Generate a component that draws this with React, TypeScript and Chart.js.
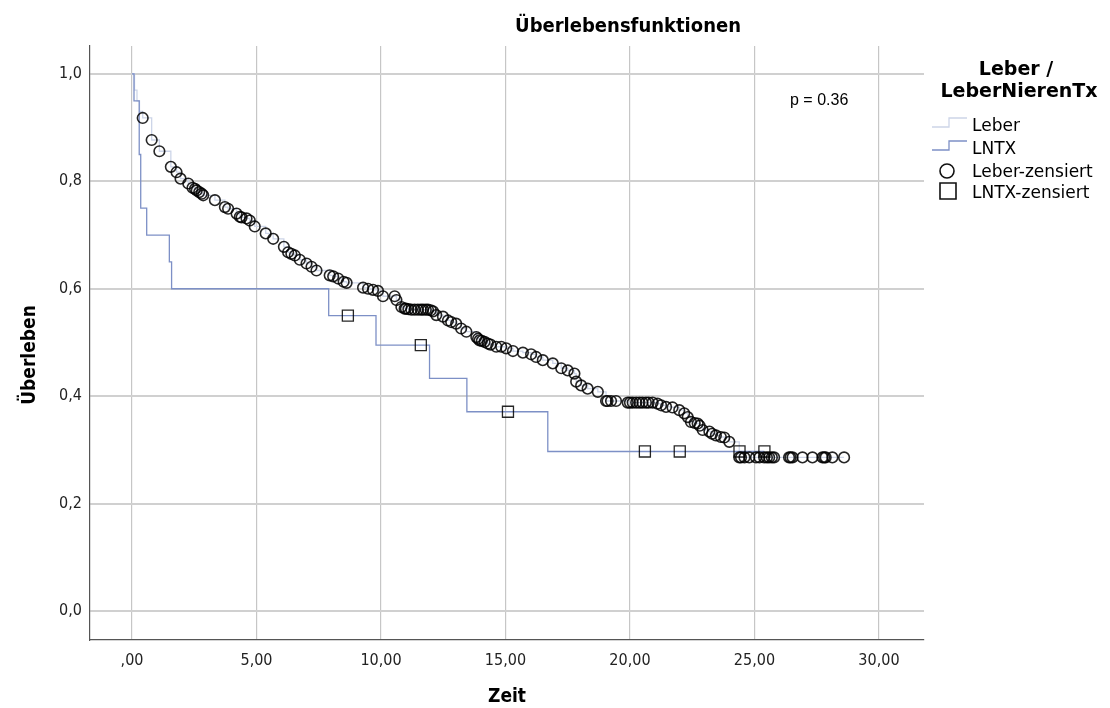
import React, { useEffect, useRef } from 'react';
import { Chart, registerables } from 'chart.js';

Chart.register(...registerables);

// ---- Axis ticks ----
const xTickValues = [0, 5, 10, 15, 20, 25, 30];
const yTickValues = [0, 0.2, 0.4, 0.6, 0.8, 1.0];

// ---- LNTX Kaplan-Meier curve ----
const lntxStepT = [0, 0.08, 0.29, 0.35, 0.59, 1.5, 1.59, 7.9, 9.8, 11.95, 13.45, 16.7, 25.4];
const lntxStepS = [1.0, 0.95, 0.85, 0.75, 0.70, 0.65, 0.60, 0.55, 0.495, 0.433, 0.371, 0.297, 0.297];
const lntxCensT = [8.67, 11.6, 15.1, 20.6, 22.0, 24.4, 25.4];
const lntxCensS = [0.55, 0.495, 0.371, 0.297, 0.297, 0.297, 0.297];

// ---- Leber Kaplan-Meier curve (initial steps before first censoring) ----
const leberStepT = [0, 0.1, 0.2, 0.3];
const leberStepS = [1.0, 0.97, 0.95, 0.93];

// ---- Leber censored observations ----
const leberCensT = [
  0.43, 0.79, 1.10, 1.56, 1.79, 1.95, 2.26, 2.43, 2.53, 2.6, 2.7, 2.80, 2.86, 3.33, 3.73, 3.86,
  4.20, 4.33, 4.4, 4.60, 4.73, 4.93, 5.37, 5.67, 6.10, 6.27, 6.4, 6.54, 6.74, 7.01, 7.21, 7.41,
  7.94, 8.08, 8.28, 8.50, 8.62, 9.28, 9.48, 9.68, 9.88, 10.08, 10.55, 10.62, 10.82, 10.95, 11.0,
  11.1, 11.22, 11.35, 11.48, 11.6, 11.69, 11.8, 11.89, 12.0, 12.09, 12.22, 12.49, 12.69, 12.82,
  13.02, 13.22, 13.43, 13.83, 13.9, 13.96, 14.05, 14.16, 14.29, 14.4, 14.63, 14.83, 15.03, 15.30,
  15.70, 16.03, 16.23, 16.50, 16.90, 17.24, 17.50, 17.77, 17.84, 18.04, 18.30, 18.71, 19.04,
  19.1, 19.24, 19.44, 19.91, 20.0, 20.11, 20.25, 20.38, 20.5, 20.64, 20.75, 20.91, 21.11, 21.25,
  21.45, 21.71, 21.98, 22.18, 22.32, 22.45, 22.6, 22.72, 22.8, 22.92, 23.19, 23.3, 23.45, 23.65,
  23.79, 23.99, 24.39, 24.46, 24.6, 24.79, 25.06, 25.2, 25.39, 25.5, 25.59, 25.7, 25.79, 26.39,
  26.45, 26.53, 26.93, 27.33, 27.73, 27.8, 27.86, 28.13, 28.60,
];
const leberCensS = [
  0.918, 0.877, 0.856, 0.827, 0.817, 0.805, 0.796, 0.788, 0.786, 0.783, 0.780, 0.777, 0.774, 0.765, 0.752, 0.749,
  0.740, 0.734, 0.733, 0.731, 0.727, 0.716, 0.703, 0.693, 0.678, 0.668, 0.665, 0.662, 0.654, 0.647, 0.641, 0.634,
  0.625, 0.623, 0.619, 0.613, 0.611, 0.602, 0.600, 0.598, 0.596, 0.586, 0.586, 0.579, 0.566, 0.563, 0.563,
  0.562, 0.561, 0.561, 0.561, 0.561, 0.561, 0.561, 0.561, 0.560, 0.558, 0.551, 0.548, 0.541, 0.538,
  0.535, 0.526, 0.520, 0.510, 0.507, 0.504, 0.503, 0.501, 0.498, 0.496, 0.492, 0.492, 0.489, 0.484,
  0.481, 0.478, 0.473, 0.467, 0.461, 0.452, 0.448, 0.442, 0.427, 0.420, 0.414, 0.408, 0.391,
  0.391, 0.391, 0.391, 0.388, 0.388, 0.388, 0.388, 0.388, 0.388, 0.388, 0.388, 0.388, 0.386, 0.383,
  0.380, 0.379, 0.374, 0.368, 0.361, 0.352, 0.350, 0.349, 0.345, 0.337, 0.334, 0.330, 0.327, 0.324,
  0.323, 0.315, 0.286, 0.286, 0.286, 0.286, 0.286, 0.286, 0.286, 0.286, 0.286, 0.286, 0.286, 0.286,
  0.286, 0.286, 0.286, 0.286, 0.286, 0.286, 0.286, 0.286, 0.286,
];

// ---- Texts ----
const chartTitle = 'Überlebensfunktionen';
const xTitle = 'Zeit';
const yTitle = 'Überleben';
const legendTitle = ['Leber /', 'LeberNierenTx'];
const legendLabels = ['Leber', 'LNTX', 'Leber-zensiert', 'LNTX-zensiert'];
const pValueText = 'p = 0.36';

const COND = '"DejaVu Sans Condensed", "DejaVu Sans", sans-serif';
const SANS = '"DejaVu Sans", sans-serif';

const LEBER_LINE = '#cdd5e8';
const LNTX_LINE = '#7d90c6';

const fmtX = (v: number) => (v === 0 ? ',00' : v.toFixed(2).replace('.', ','));
const fmtY = (v: number) => v.toFixed(1).replace('.', ',');

const decorPlugin = {
  id: 'decor',
  afterDraw(chart: any) {
    const ctx: CanvasRenderingContext2D = chart.ctx;
    const area = chart.chartArea;
    ctx.save();
    ctx.fillStyle = '#000';
    // Title
    ctx.font = `bold 20px ${COND}`;
    ctx.textAlign = 'center';
    ctx.textBaseline = 'middle';
    ctx.fillText(chartTitle, 628, 27);
    // X title
    ctx.font = `bold 19px ${COND}`;
    ctx.fillText(xTitle, (area.left + area.right) / 2, 697);
    // Y title
    ctx.save();
    ctx.translate(30, 355);
    ctx.rotate(-Math.PI / 2);
    ctx.fillText(yTitle, 0, 0);
    ctx.restore();
    // p-value
    ctx.font = '16px "Liberation Sans", Arial, sans-serif';
    ctx.textAlign = 'left';
    ctx.fillText(pValueText, 790, 101);

    // Legend title
    ctx.font = `bold 19px ${SANS}`;
    ctx.textAlign = 'center';
    ctx.textBaseline = 'alphabetic';
    ctx.fillText(legendTitle[0], 1016, 75);
    ctx.fillText(legendTitle[1], 1019, 97);

    // Legend items
    ctx.font = `17px ${SANS}`;
    ctx.textAlign = 'left';
    const baselines = [131, 154, 177, 198];
    const tx = 972;
    legendLabels.forEach((lab, i) => ctx.fillText(lab, tx, baselines[i]));

    // step icons
    const drawStep = (color: string, yLow: number, yHigh: number) => {
      ctx.beginPath();
      ctx.strokeStyle = color;
      ctx.lineWidth = 1.3;
      ctx.moveTo(932, yLow);
      ctx.lineTo(949, yLow);
      ctx.lineTo(949, yHigh);
      ctx.lineTo(967, yHigh);
      ctx.stroke();
    };
    drawStep(LEBER_LINE, 127, 118);
    drawStep(LNTX_LINE, 150, 141);
    // circle icon
    ctx.beginPath();
    ctx.strokeStyle = '#111';
    ctx.lineWidth = 1.6;
    ctx.arc(947, 171, 7, 0, Math.PI * 2);
    ctx.stroke();
    // square icon
    ctx.beginPath();
    ctx.rect(940, 183, 16, 16);
    ctx.stroke();
    ctx.restore();
  },
};

export default function App() {
  const ref = useRef<HTMLCanvasElement>(null);
  useEffect(() => {
    if (!ref.current) return;
    const lntxLine = lntxStepT.map((t, i) => ({ x: t, y: lntxStepS[i] }));
    const leberLine = [
      ...leberStepT.map((t, i) => ({ x: t, y: leberStepS[i] })),
      ...leberCensT.map((t, i) => ({ x: t, y: leberCensS[i] })),
    ];
    const leberCens = leberCensT.map((t, i) => ({ x: t, y: leberCensS[i] }));
    const lntxCens = lntxCensT.map((t, i) => ({ x: t, y: lntxCensS[i] }));

    const chart = new Chart(ref.current, {
      type: 'scatter',
      data: {
        datasets: [
          {
            label: 'Leber-zensiert',
            data: leberCens,
            pointStyle: 'circle',
            pointRadius: 5.3,
            borderColor: 'rgba(0,0,0,0.85)',
            backgroundColor: 'rgba(0,0,0,0)',
            borderWidth: 1.6,
            showLine: false,
          },
          {
            label: 'LNTX-zensiert',
            data: lntxCens,
            pointStyle: 'rect',
            pointRadius: 7.8,
            borderColor: 'rgba(0,0,0,0.85)',
            backgroundColor: 'rgba(0,0,0,0)',
            borderWidth: 1.3,
            showLine: false,
          },
          {
            label: 'LNTX',
            data: lntxLine,
            showLine: true,
            stepped: true,
            borderColor: LNTX_LINE,
            borderWidth: 1.3,
            pointRadius: 0,
          },
          {
            label: 'Leber',
            data: leberLine,
            showLine: true,
            stepped: true,
            borderColor: LEBER_LINE,
            borderWidth: 1.3,
            pointRadius: 0,
          },
        ],
      } as any,
      options: {
        animation: false,
        responsive: false,
        events: [],
        layout: { padding: { top: 46, right: 186, left: 0, bottom: 0 } },
        plugins: {
          legend: { display: false },
          title: { display: false },
          tooltip: { enabled: false },
        },
        scales: {
          x: {
            type: 'linear',
            min: -1.687,
            max: 31.81,
            afterBuildTicks: (s: any) => {
              s.ticks = xTickValues.map((v) => ({ value: v }));
            },
            afterFit: (s: any) => {
              s.height = 68;
            },
            grid: { color: '#c6c6c6', lineWidth: 1.2, drawTicks: false },
            border: { display: true, color: '#555', width: 1.2 },
            ticks: {
              padding: 11,
              color: '#222',
              font: { family: COND, size: 16 },
              callback: (v: any) => fmtX(Number(v)),
            },
          },
          y: {
            type: 'linear',
            min: -0.054,
            max: 1.052,
            afterBuildTicks: (s: any) => {
              s.ticks = yTickValues.map((v) => ({ value: v }));
            },
            afterFit: (s: any) => {
              s.width = 90;
            },
            grid: { color: '#d0d0d0', lineWidth: 2, drawTicks: false },
            border: { display: true, color: '#555', width: 1.2 },
            ticks: {
              padding: 8,
              color: '#222',
              font: { family: COND, size: 16 },
              callback: (v: any) => fmtY(Number(v)),
            },
          },
        },
      } as any,
      plugins: [decorPlugin],
    });
    return () => chart.destroy();
  }, []);

  return (
    <div style={{ position: 'fixed', left: 0, top: 0, width: 1110, height: 708, background: '#fff' }}>
      <canvas ref={ref} width={1110} height={708} style={{ width: 1110, height: 708, display: 'block' }} />
    </div>
  );
}
